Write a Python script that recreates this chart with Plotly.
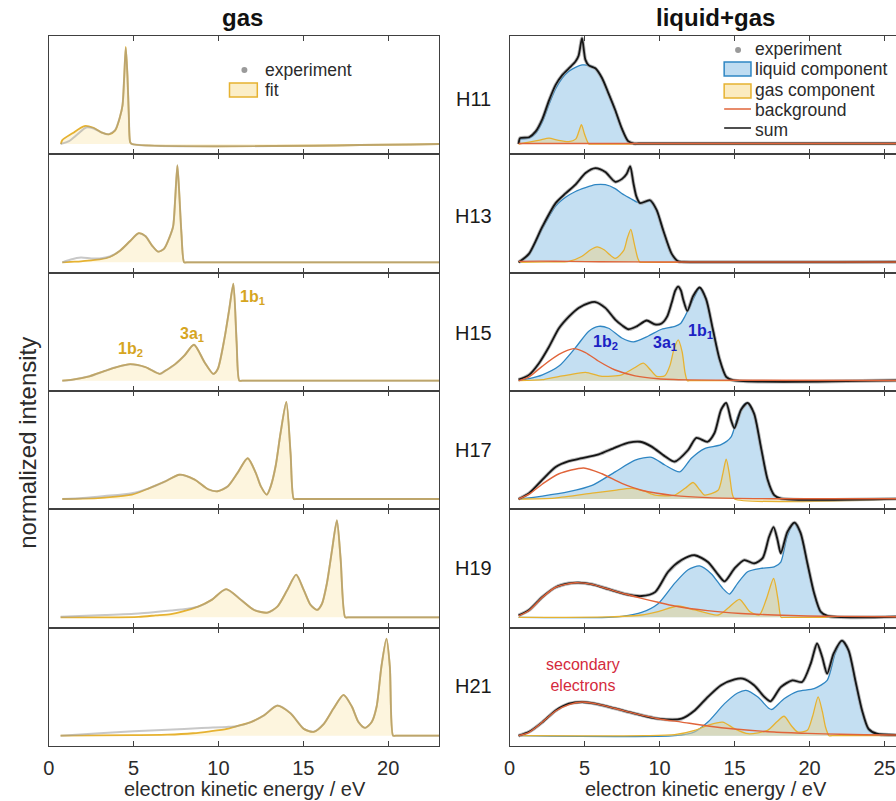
import plotly.graph_objects as go
from plotly.subplots import make_subplots

# ---------------- data ----------------
harmonics = ["H11", "H13", "H15", "H17", "H19", "H21"]
ticks_gas = [0, 5, 10, 15, 20]
ticks_liq = [0, 5, 10, 15, 20, 25]

# gas-phase panels: fit and experiment (energy eV, normalized intensity)
h11_fit_e = [0.72, 0.8, 1.4, 2.1, 2.6, 3.1, 3.55, 3.92, 4.2, 4.35, 4.45, 4.54, 4.64, 4.72, 4.8, 4.9, 23]
h11_fit_y = [0.0, 0.04, 0.11, 0.185, 0.17, 0.12, 0.10, 0.14, 0.28, 0.40, 0.70, 1.0, 0.70, 0.30, 0.02, 0.0, 0.0]
h11_exp_e = [0.7, 1.2, 1.7, 2.2, 2.65, 3.1, 3.5, 3.9, 4.2, 4.35, 4.45, 4.54, 4.64, 4.72, 4.8, 4.9, 23]
h11_exp_y = [0.0, 0.03, 0.10, 0.17, 0.16, 0.12, 0.10, 0.14, 0.28, 0.40, 0.70, 0.99, 0.70, 0.30, 0.02, 0.0, 0.0]

h13_fit_e = [0.8, 1.3, 1.9, 2.5, 3.0, 3.6, 4.2, 4.8, 5.3, 5.7, 6.1, 6.45, 6.8, 7.1, 7.33, 7.45, 7.58, 7.68, 7.82, 7.98, 8.15, 23]
h13_fit_y = [0.0, 0.005, 0.01, 0.02, 0.03, 0.055, 0.12, 0.22, 0.30, 0.27, 0.17, 0.11, 0.14, 0.25, 0.37, 0.65, 1.0, 0.75, 0.30, 0.0, 0.0, 0.0]
h13_exp_e = [0.8, 1.3, 1.9, 2.5, 3.0, 3.6, 4.2, 4.8, 5.3, 5.7, 6.1, 6.45, 6.8, 7.1, 7.33, 7.45, 7.58, 7.68, 7.82, 7.98, 8.15, 23]
h13_exp_y = [0.0, 0.03, 0.05, 0.04, 0.04, 0.06, 0.12, 0.22, 0.30, 0.27, 0.17, 0.11, 0.14, 0.25, 0.37, 0.65, 1.0, 0.75, 0.30, 0.0, 0.0, 0.0]

h15_fit_e = [0.8, 1.4, 2.4, 3.3, 4.0, 4.8, 5.7, 6.55, 6.85, 7.45, 8.0, 8.56, 9.18, 9.7, 9.96, 10.35, 10.64, 10.88, 11.07, 11.23, 11.4, 23]
h15_fit_y = [0.0, 0.01, 0.045, 0.10, 0.14, 0.17, 0.14, 0.07, 0.10, 0.17, 0.26, 0.37, 0.19, 0.07, 0.12, 0.43, 0.74, 1.0, 0.40, 0.0, 0.0, 0.0]
h15_exp_e = h15_fit_e
h15_exp_y = h15_fit_y

h17_fit_e = [0.8, 2.0, 3.3, 4.9, 5.9, 6.85, 7.7, 8.6, 9.4, 9.95, 10.55, 11.13, 11.72, 12.2, 12.5, 12.85, 13.08, 13.37, 13.66, 14.0, 14.25, 14.44, 14.6, 23]
h17_fit_y = [0.0, 0.003, 0.015, 0.045, 0.11, 0.18, 0.25, 0.20, 0.10, 0.08, 0.13, 0.27, 0.42, 0.27, 0.13, 0.045, 0.13, 0.34, 0.68, 1.0, 0.47, 0.0, 0.0, 0.0]
h17_exp_e = h17_fit_e
h17_exp_y = [0.0, 0.01, 0.03, 0.06, 0.11, 0.18, 0.25, 0.20, 0.10, 0.08, 0.13, 0.27, 0.42, 0.27, 0.13, 0.045, 0.13, 0.34, 0.68, 1.0, 0.47, 0.0, 0.0, 0.0]

h19_fit_e = [0.7, 3.3, 5.3, 6.3, 7.2, 7.8, 8.8, 9.6, 10.45, 11.33, 12.1, 12.88, 13.47, 14.05, 14.58, 15.03, 15.42, 15.81, 16.1, 16.39, 16.69, 16.98, 17.2, 17.47, 17.65, 23]
h19_fit_y = [0.0, 0.0, 0.005, 0.02, 0.034, 0.055, 0.11, 0.18, 0.29, 0.18, 0.076, 0.048, 0.11, 0.28, 0.44, 0.28, 0.13, 0.076, 0.14, 0.35, 0.69, 1.0, 0.60, 0.0, 0.0, 0.0]
h19_exp_e = [0.7, 3.3, 5.3, 6.3, 7.2, 7.8, 8.8, 9.6, 10.45, 11.33, 12.1, 12.88, 13.47, 14.05, 14.58, 15.03, 15.42, 15.81, 16.1, 16.39, 16.69, 16.98, 17.2, 17.47, 17.65, 23]
h19_exp_y = [0.007, 0.024, 0.04, 0.055, 0.07, 0.08, 0.11, 0.18, 0.29, 0.18, 0.076, 0.048, 0.11, 0.28, 0.44, 0.28, 0.13, 0.076, 0.14, 0.35, 0.69, 1.0, 0.60, 0.0, 0.0, 0.0]

h21_fit_e = [0.7, 5.0, 7.0, 8.5, 9.5, 10.5, 11.13, 11.91, 12.69, 13.47, 14.25, 15.03, 15.61, 16.2, 16.78, 17.37, 17.86, 18.25, 18.64, 19.03, 19.32, 19.6, 19.9, 20.1, 20.29, 20.45, 23]
h21_fit_y = [0.0, 0.005, 0.01, 0.025, 0.045, 0.07, 0.10, 0.14, 0.21, 0.31, 0.23, 0.07, 0.04, 0.12, 0.28, 0.42, 0.30, 0.14, 0.08, 0.14, 0.30, 0.71, 1.0, 0.71, 0.0, 0.0, 0.0]
h21_exp_e = [0.7, 3.0, 5.0, 7.0, 9.0, 10.5, 11.13, 11.91, 12.69, 13.47, 14.25, 15.03, 15.61, 16.2, 16.78, 17.37, 17.86, 18.25, 18.64, 19.03, 19.32, 19.6, 19.9, 20.1, 20.29, 20.45, 23]
h21_exp_y = [0.0, 0.025, 0.045, 0.06, 0.08, 0.09, 0.10, 0.14, 0.21, 0.31, 0.23, 0.07, 0.04, 0.12, 0.28, 0.42, 0.30, 0.14, 0.08, 0.14, 0.30, 0.71, 1.0, 0.71, 0.0, 0.0, 0.0]

# liquid+gas panels: sum, liquid component, gas component, background
h11_sum_e = [0.6, 0.7, 1.3, 1.74, 2.19, 2.63, 3.07, 3.51, 3.95, 4.39, 4.6, 4.83, 5.05, 5.28, 5.72, 6.16, 6.6, 7.04, 7.48, 7.9, 8.3, 8.6, 25.8]
h11_sum_y = [0.0, 0.06, 0.07, 0.13, 0.26, 0.45, 0.61, 0.71, 0.78, 0.85, 0.91, 1.09, 0.87, 0.81, 0.78, 0.68, 0.52, 0.35, 0.16, 0.03, 0.005, 0.005, 0.005]
h11_liq_e = [0.6, 0.7, 1.3, 1.74, 2.19, 2.63, 3.07, 3.51, 3.95, 4.39, 4.83, 5.28, 5.72, 6.16, 6.6, 7.04, 7.48, 7.9, 8.3, 8.6]
h11_liq_y = [0.0, 0.05, 0.06, 0.11, 0.23, 0.41, 0.57, 0.68, 0.75, 0.79, 0.815, 0.81, 0.78, 0.68, 0.52, 0.35, 0.16, 0.03, 0.0, 0.0]
h11_gas_e = [0.6, 1.3, 2.0, 2.63, 3.2, 3.95, 4.4, 4.6, 4.79, 5.0, 5.28, 5.4, 25.8]
h11_gas_y = [0.0, 0.02, 0.04, 0.06, 0.04, 0.025, 0.05, 0.12, 0.20, 0.10, 0.0, 0.0, 0.0]
h11_bg_e = [0.6, 25.8]
h11_bg_y = [0.005, 0.005]

h13_sum_e = [0.6, 1.3, 2.19, 3.07, 3.73, 4.39, 5.06, 5.72, 6.38, 7.04, 7.5, 7.8, 8.04, 8.25, 8.45, 8.7, 9.36, 9.8, 10.24, 10.8, 11.24, 11.6, 25.8]
h13_sum_y = [0.0, 0.09, 0.37, 0.61, 0.71, 0.80, 0.92, 0.97, 0.93, 0.83, 0.86, 0.91, 0.99, 0.82, 0.68, 0.61, 0.64, 0.54, 0.33, 0.09, 0.01, 0.005, 0.005]
h13_liq_e = [0.6, 1.3, 2.19, 3.07, 3.73, 4.39, 5.06, 5.72, 6.38, 7.04, 7.48, 8.04, 8.5, 8.8, 9.36, 9.8, 10.24, 10.8, 11.24, 11.6]
h13_liq_y = [0.0, 0.08, 0.35, 0.58, 0.67, 0.73, 0.77, 0.80, 0.80, 0.76, 0.71, 0.66, 0.62, 0.61, 0.63, 0.54, 0.33, 0.09, 0.01, 0.0]
h13_gas_e = [0.6, 2.5, 3.95, 4.8, 5.4, 5.83, 6.3, 7.04, 7.6, 7.85, 8.08, 8.3, 8.55, 8.7, 8.9, 25.8]
h13_gas_y = [0.0, 0.005, 0.01, 0.06, 0.13, 0.16, 0.13, 0.04, 0.12, 0.25, 0.34, 0.20, 0.04, 0.0, 0.0, 0.0]
h13_bg_e = [0.6, 2.0, 4.0, 6.0, 10.0, 25.8]
h13_bg_y = [0.01, 0.012, 0.01, 0.006, 0.004, 0.003]

h15_sum_e = [0.6, 1.3, 1.96, 2.63, 3.29, 3.95, 4.6, 5.28, 5.72, 6.38, 7.04, 7.5, 7.93, 8.48, 9.14, 9.69, 10.13, 10.5, 10.8, 11.05, 11.24, 11.42, 11.57, 11.85, 12.23, 12.67, 13.1, 13.55, 14.0, 14.44, 14.9, 25.8]
h15_sum_y = [0.01, 0.06, 0.18, 0.35, 0.54, 0.66, 0.75, 0.80, 0.81, 0.75, 0.63, 0.57, 0.53, 0.56, 0.62, 0.58, 0.59, 0.66, 0.80, 0.93, 0.97, 0.93, 0.84, 0.72, 0.87, 0.96, 0.84, 0.53, 0.22, 0.04, 0.005, 0.003]
h15_liq_e = [0.6, 1.3, 2.19, 3.29, 4.39, 5.28, 5.94, 6.6, 7.48, 8.26, 9.25, 10.13, 11.02, 11.4, 11.68, 12.0, 12.34, 12.67, 13.1, 13.55, 14.0, 14.44, 14.9]
h15_liq_y = [0.0, 0.02, 0.06, 0.15, 0.34, 0.51, 0.56, 0.54, 0.44, 0.40, 0.46, 0.53, 0.56, 0.59, 0.66, 0.76, 0.87, 0.955, 0.84, 0.53, 0.22, 0.04, 0.0]
h15_gas_e = [0.6, 2.19, 3.0, 3.95, 5.06, 6.16, 7.48, 8.3, 8.92, 9.4, 9.8, 10.35, 10.7, 10.95, 11.24, 11.5, 11.7, 11.85, 12.0, 25.8]
h15_gas_y = [0.0, 0.01, 0.035, 0.06, 0.086, 0.045, 0.06, 0.13, 0.18, 0.11, 0.045, 0.05, 0.16, 0.32, 0.42, 0.30, 0.08, 0.0, 0.0, 0.0]
h15_bg_e = [0.6, 1.3, 2.19, 3.29, 4.28, 5.06, 5.94, 7.04, 8.37, 9.9, 12.0, 15.0, 25.8]
h15_bg_y = [0.0, 0.04, 0.15, 0.27, 0.33, 0.29, 0.20, 0.11, 0.05, 0.02, 0.008, 0.004, 0.002]

h17_sum_e = [0.6, 1.3, 2.19, 3.07, 3.95, 4.83, 5.94, 7.04, 7.93, 8.7, 9.47, 10.35, 11.0, 11.9, 12.45, 13.2, 13.66, 14.1, 14.44, 14.77, 14.99, 15.43, 15.87, 16.3, 16.75, 17.2, 17.64, 18.1, 25.8]
h17_sum_y = [0.0, 0.06, 0.20, 0.33, 0.39, 0.42, 0.46, 0.53, 0.58, 0.59, 0.54, 0.44, 0.385, 0.505, 0.63, 0.59, 0.68, 0.92, 0.99, 0.81, 0.73, 0.92, 0.99, 0.88, 0.54, 0.20, 0.04, 0.005, 0.002]
h17_liq_e = [0.6, 2.19, 3.95, 5.5, 7.04, 8.37, 9.47, 10.35, 11.35, 12.12, 13.0, 14.1, 14.77, 15.2, 15.65, 15.87, 16.3, 16.75, 17.2, 17.64, 18.1]
h17_liq_y = [0.0, 0.03, 0.075, 0.14, 0.28, 0.40, 0.43, 0.35, 0.28, 0.42, 0.52, 0.56, 0.64, 0.85, 0.98, 0.99, 0.88, 0.54, 0.20, 0.04, 0.0]
h17_gas_e = [0.6, 3.0, 5.5, 7.0, 8.15, 9.0, 9.7, 11.0, 11.7, 12.23, 12.7, 13.0, 13.9, 14.2, 14.44, 14.65, 14.85, 15.0, 25.8]
h17_gas_y = [0.0, 0.01, 0.06, 0.09, 0.11, 0.08, 0.04, 0.04, 0.11, 0.17, 0.09, 0.04, 0.09, 0.25, 0.41, 0.26, 0.05, 0.0, 0.0]
h17_bg_e = [0.6, 1.3, 2.19, 3.29, 4.94, 6.16, 7.48, 8.8, 11.0, 13.2, 17.64, 25.8]
h17_bg_y = [0.0, 0.05, 0.155, 0.26, 0.32, 0.26, 0.16, 0.09, 0.035, 0.014, 0.003, 0.002]

h19_sum_e = [0.6, 1.3, 2.19, 3.07, 3.95, 4.6, 5.5, 6.6, 7.7, 8.8, 9.7, 10.57, 11.46, 12.34, 13.22, 13.9, 14.33, 15.0, 15.65, 16.3, 16.87, 17.3, 17.6, 17.86, 18.08, 18.52, 19.0, 19.4, 19.85, 20.3, 20.73, 21.2, 25.8]
h19_sum_y = [0.02, 0.076, 0.21, 0.31, 0.35, 0.357, 0.34, 0.29, 0.24, 0.22, 0.26, 0.47, 0.59, 0.64, 0.57, 0.44, 0.37, 0.505, 0.59, 0.556, 0.61, 0.83, 0.93, 0.80, 0.66, 0.88, 0.976, 0.87, 0.56, 0.25, 0.06, 0.014, 0.006]
h19_liq_e = [0.6, 6.6, 7.5, 8.8, 9.9, 11.0, 11.9, 12.67, 13.44, 14.2, 14.66, 15.2, 15.87, 16.75, 17.64, 18.08, 18.5, 18.96, 19.4, 19.85, 20.3, 20.73, 21.2, 21.5]
h19_liq_y = [0.0, 0.0, 0.01, 0.05, 0.14, 0.35, 0.49, 0.53, 0.45, 0.30, 0.24, 0.35, 0.47, 0.505, 0.52, 0.57, 0.83, 0.97, 0.86, 0.55, 0.24, 0.05, 0.005, 0.0]
h19_gas_e = [0.6, 6.6, 8.8, 9.9, 11.24, 12.34, 13.9, 14.55, 15.33, 16.0, 16.65, 17.1, 17.6, 17.9, 18.1, 18.3, 25.8]
h19_gas_y = [0.0, 0.005, 0.024, 0.06, 0.117, 0.076, 0.024, 0.093, 0.186, 0.06, 0.024, 0.18, 0.40, 0.18, 0.0, 0.0, 0.0]
h19_bg_e = [0.6, 1.3, 2.19, 3.07, 4.39, 5.5, 6.6, 7.7, 8.8, 9.9, 11.0, 13.2, 15.43, 17.64, 19.85, 22.0, 25.8]
h19_bg_y = [0.014, 0.07, 0.206, 0.31, 0.357, 0.34, 0.29, 0.24, 0.196, 0.155, 0.117, 0.069, 0.04, 0.024, 0.014, 0.01, 0.006]

h21_sum_e = [0.6, 1.3, 2.19, 3.07, 3.95, 4.83, 5.72, 7.04, 8.37, 9.9, 11.46, 12.34, 13.22, 14.1, 15.0, 15.54, 16.3, 16.98, 17.4, 18.08, 18.85, 19.5, 20.07, 20.5, 20.84, 21.17, 21.6, 22.16, 22.6, 23.05, 23.5, 23.93, 24.48, 25.8]
h21_sum_y = [0.0, 0.04, 0.14, 0.26, 0.33, 0.347, 0.33, 0.28, 0.227, 0.175, 0.175, 0.26, 0.40, 0.52, 0.58, 0.588, 0.52, 0.40, 0.354, 0.50, 0.57, 0.553, 0.74, 0.95, 0.81, 0.64, 0.845, 0.98, 0.88, 0.57, 0.26, 0.07, 0.02, 0.007]
h21_liq_e = [0.6, 11.0, 12.34, 13.22, 14.33, 15.2, 15.76, 16.53, 17.3, 17.5, 18.3, 19.2, 20.3, 21.17, 21.7, 22.16, 22.6, 23.05, 23.5, 23.93, 24.48, 24.8]
h21_liq_y = [0.0, 0.0, 0.04, 0.14, 0.33, 0.44, 0.467, 0.40, 0.28, 0.27, 0.38, 0.457, 0.485, 0.57, 0.845, 0.976, 0.87, 0.56, 0.25, 0.06, 0.01, 0.0]
h21_gas_e = [0.6, 9.0, 11.0, 12.34, 13.22, 14.2, 15.0, 15.9, 17.2, 17.8, 18.3, 18.8, 19.2, 19.85, 20.2, 20.57, 20.85, 21.06, 21.3, 21.5, 25.8]
h21_gas_y = [0.0, 0.0, 0.01, 0.055, 0.107, 0.14, 0.072, 0.02, 0.055, 0.14, 0.20, 0.10, 0.038, 0.055, 0.20, 0.40, 0.25, 0.09, 0.0, 0.0, 0.0]
h21_bg_e = [0.6, 1.3, 2.19, 3.07, 3.95, 4.83, 5.72, 7.04, 8.37, 9.9, 11.46, 13.22, 15.0, 17.64, 19.85, 22.05, 25.4, 25.8]
h21_bg_y = [0.0, 0.035, 0.14, 0.254, 0.32, 0.347, 0.33, 0.28, 0.227, 0.175, 0.14, 0.10, 0.069, 0.038, 0.024, 0.014, 0.007, 0.007]

gas_panels = [
    (h11_fit_e, h11_fit_y, h11_exp_e, h11_exp_y),
    (h13_fit_e, h13_fit_y, h13_exp_e, h13_exp_y),
    (h15_fit_e, h15_fit_y, h15_exp_e, h15_exp_y),
    (h17_fit_e, h17_fit_y, h17_exp_e, h17_exp_y),
    (h19_fit_e, h19_fit_y, h19_exp_e, h19_exp_y),
    (h21_fit_e, h21_fit_y, h21_exp_e, h21_exp_y),
]
liq_panels = [
    (h11_sum_e, h11_sum_y, h11_liq_e, h11_liq_y, h11_gas_e, h11_gas_y, h11_bg_e, h11_bg_y),
    (h13_sum_e, h13_sum_y, h13_liq_e, h13_liq_y, h13_gas_e, h13_gas_y, h13_bg_e, h13_bg_y),
    (h15_sum_e, h15_sum_y, h15_liq_e, h15_liq_y, h15_gas_e, h15_gas_y, h15_bg_e, h15_bg_y),
    (h17_sum_e, h17_sum_y, h17_liq_e, h17_liq_y, h17_gas_e, h17_gas_y, h17_bg_e, h17_bg_y),
    (h19_sum_e, h19_sum_y, h19_liq_e, h19_liq_y, h19_gas_e, h19_gas_y, h19_bg_e, h19_bg_y),
    (h21_sum_e, h21_sum_y, h21_liq_e, h21_liq_y, h21_gas_e, h21_gas_y, h21_bg_e, h21_bg_y),
]

# ---------------- styling ----------------
W, H = 896, 801
FONT = "Liberation Sans, Arial, Helvetica, sans-serif"
GOLD = "#E6B231"
GAS_FILL_L = "rgba(251,238,200,0.6)"
GAS_FILL_R = "rgba(232,212,150,0.55)"
LIQ_FILL = "rgba(190,219,241,0.9)"
LIQ_LINE = "#2F86C3"
BG_LINE = "#E0643A"
SUM_LINE = "#151515"
EXP_GRAY_L = "rgba(155,155,155,0.55)"
EXP_GRAY_R = "rgba(150,150,150,0.7)"
AXIS = "#404040"
TXT = "#2b2b2b"


def px(x):
    return x / W


def py(y):
    return 1 - y / H


fig = make_subplots(rows=6, cols=2, vertical_spacing=0, horizontal_spacing=0.05)

SPL = dict(shape="spline", smoothing=0.7)

for i in range(6):
    fe, fy, ee, ey = gas_panels[i]
    fig.add_trace(go.Scatter(x=fe, y=fy, mode="lines", fill="tozeroy", fillcolor=GAS_FILL_L,
                             line=dict(color=GOLD, width=1.8, **SPL), showlegend=False, hoverinfo="skip"),
                  row=i + 1, col=1)
    fig.add_trace(go.Scatter(x=ee, y=ey, mode="lines",
                             line=dict(color=EXP_GRAY_L, width=2.0, **SPL), showlegend=False, hoverinfo="skip"),
                  row=i + 1, col=1)

    se, sy, le, ly, ge, gy, be, by = liq_panels[i]
    fig.add_trace(go.Scatter(x=le, y=ly, mode="lines", fill="tozeroy", fillcolor=LIQ_FILL,
                             line=dict(color=LIQ_LINE, width=1.3, **SPL), showlegend=False, hoverinfo="skip"),
                  row=i + 1, col=2)
    fig.add_trace(go.Scatter(x=ge, y=gy, mode="lines", fill="tozeroy", fillcolor=GAS_FILL_R,
                             line=dict(color=GOLD, width=1.3, **SPL), showlegend=False, hoverinfo="skip"),
                  row=i + 1, col=2)
    fig.add_trace(go.Scatter(x=se, y=sy, mode="lines",
                             line=dict(color=EXP_GRAY_R, width=3.6, **SPL), showlegend=False, hoverinfo="skip"),
                  row=i + 1, col=2)
    fig.add_trace(go.Scatter(x=se, y=sy, mode="lines",
                             line=dict(color=SUM_LINE, width=1.8, **SPL), showlegend=False, hoverinfo="skip"),
                  row=i + 1, col=2)
    fig.add_trace(go.Scatter(x=be, y=by, mode="lines",
                             line=dict(color=BG_LINE, width=1.4, **SPL), showlegend=False, hoverinfo="skip"),
                  row=i + 1, col=2)

# ---------------- axes / domains ----------------
YR = [-0.1065, 1.113]
ROW_H = (746 - 36) / 6.0
for i in range(6):
    top = 36 + ROW_H * i
    bot = top + ROW_H
    dom_y = [py(bot), py(top)]
    last = (i == 5)
    for c in (1, 2):
        if c == 1:
            dom_x = [px(43), px(436)]
            rng = [0, 23]
            tv = ticks_gas
        else:
            dom_x = [px(507), 1.0]
            rng = [0, (896 - 507) / 15.1]
            tv = ticks_liq
        fig.update_xaxes(row=i + 1, col=c, domain=dom_x, range=rng, tickvals=tv,
                         ticktext=[str(t) for t in tv], showticklabels=last,
                         ticks="inside", ticklen=5, tickwidth=1.2, tickcolor=AXIS,
                         mirror="ticks", showline=True, linecolor=AXIS, linewidth=1,
                         showgrid=False, zeroline=False,
                         tickfont=dict(family=FONT, size=20, color=TXT), ticklabelstandoff=4)
        fig.update_yaxes(row=i + 1, col=c, domain=dom_y, range=YR, showticklabels=False,
                         ticks="", showline=True, linecolor=AXIS, linewidth=1.4,
                         mirror=(c == 1), showgrid=False, zeroline=False)

# ---------------- annotations ----------------
ann = []


def text(x, y, s, size, color=TXT, xanchor="center", bold=False, angle=0):
    if bold:
        s = "<b>" + s + "</b>"
    ann.append(dict(x=px(x), y=py(y), xref="paper", yref="paper", text=s, showarrow=False,
                    xanchor=xanchor, yanchor="middle", textangle=angle,
                    font=dict(family=FONT, size=size, color=color)))


text(238, 17, "gas", 24, color="#111", bold=True)
text(714, 17, "liquid+gas", 24, color="#111", bold=True)
row_label_y = [99, 216, 333, 450, 568, 686]
for lab, yy in zip(harmonics, row_label_y):
    text(471, yy, lab, 20, color="#1a1a1a")
text(241, 789, "electron kinetic energy / eV", 20)
text(705, 789, "electron kinetic energy / eV", 20)
text(21, 443, "normalized intensity", 24, angle=-90)

# orbital labels
GOLD_TXT = "#D6A51F"
BLUE_TXT = "#1C22C4"
text(125, 350, "1b<sub>2</sub>", 16, color=GOLD_TXT, bold=True)
text(187, 334, "3a<sub>1</sub>", 16, color=GOLD_TXT, bold=True)
text(248, 297, "1b<sub>1</sub>", 16, color=GOLD_TXT, bold=True)
text(604, 343, "1b<sub>2</sub>", 16, color=BLUE_TXT, bold=True)
text(663, 344, "3a<sub>1</sub>", 16, color=BLUE_TXT, bold=True)
text(699, 331, "1b<sub>1</sub>", 16, color=BLUE_TXT, bold=True)
text(581, 675, "secondary<br>electrons", 16, color="#D42A3C")

# legend texts
text(259, 70, "experiment", 17.5, xanchor="left")
text(259, 90, "fit", 17.5, xanchor="left")
leg_y = [49, 69.5, 90, 110, 130]
leg_t = ["experiment", "liquid component", "gas component", "background", "sum"]
for t, yy in zip(leg_t, leg_y):
    text(752, yy, t, 17.5, xanchor="left")

# legend symbols
shapes = []


def rect(x0, y0, x1, y1, fill, line):
    shapes.append(dict(type="rect", xref="paper", yref="paper", x0=px(x0), x1=px(x1),
                       y0=py(y1), y1=py(y0), fillcolor=fill, line=dict(color=line, width=1.5)))


def dot(x, y, r, color):
    shapes.append(dict(type="circle", xref="paper", yref="paper", x0=px(x - r), x1=px(x + r),
                       y0=py(y + r), y1=py(y - r), fillcolor=color, line=dict(width=0)))


def seg(x0, x1, y, color, w):
    shapes.append(dict(type="line", xref="paper", yref="paper", x0=px(x0), x1=px(x1),
                       y0=py(y), y1=py(y), line=dict(color=color, width=w)))


dot(240, 70, 3, "#9a9a9a")
rect(225, 83, 253, 97, "#FBEEC8", GOLD)
dot(737, 50, 3, "#9a9a9a")
rect(723, 62, 750, 76, "#BFDCF1", LIQ_LINE)
rect(723, 84, 750, 98, "#FBEBC0", GOLD)
seg(723, 750, 109, BG_LINE, 1.5)
seg(723, 750, 128, SUM_LINE, 1.5)

fig.update_layout(width=W, height=H, margin=dict(l=0, r=0, t=0, b=0),
                  plot_bgcolor="white", paper_bgcolor="white",
                  annotations=ann, shapes=shapes, showlegend=False,
                  font=dict(family=FONT))

fig.write_html("out.html")
